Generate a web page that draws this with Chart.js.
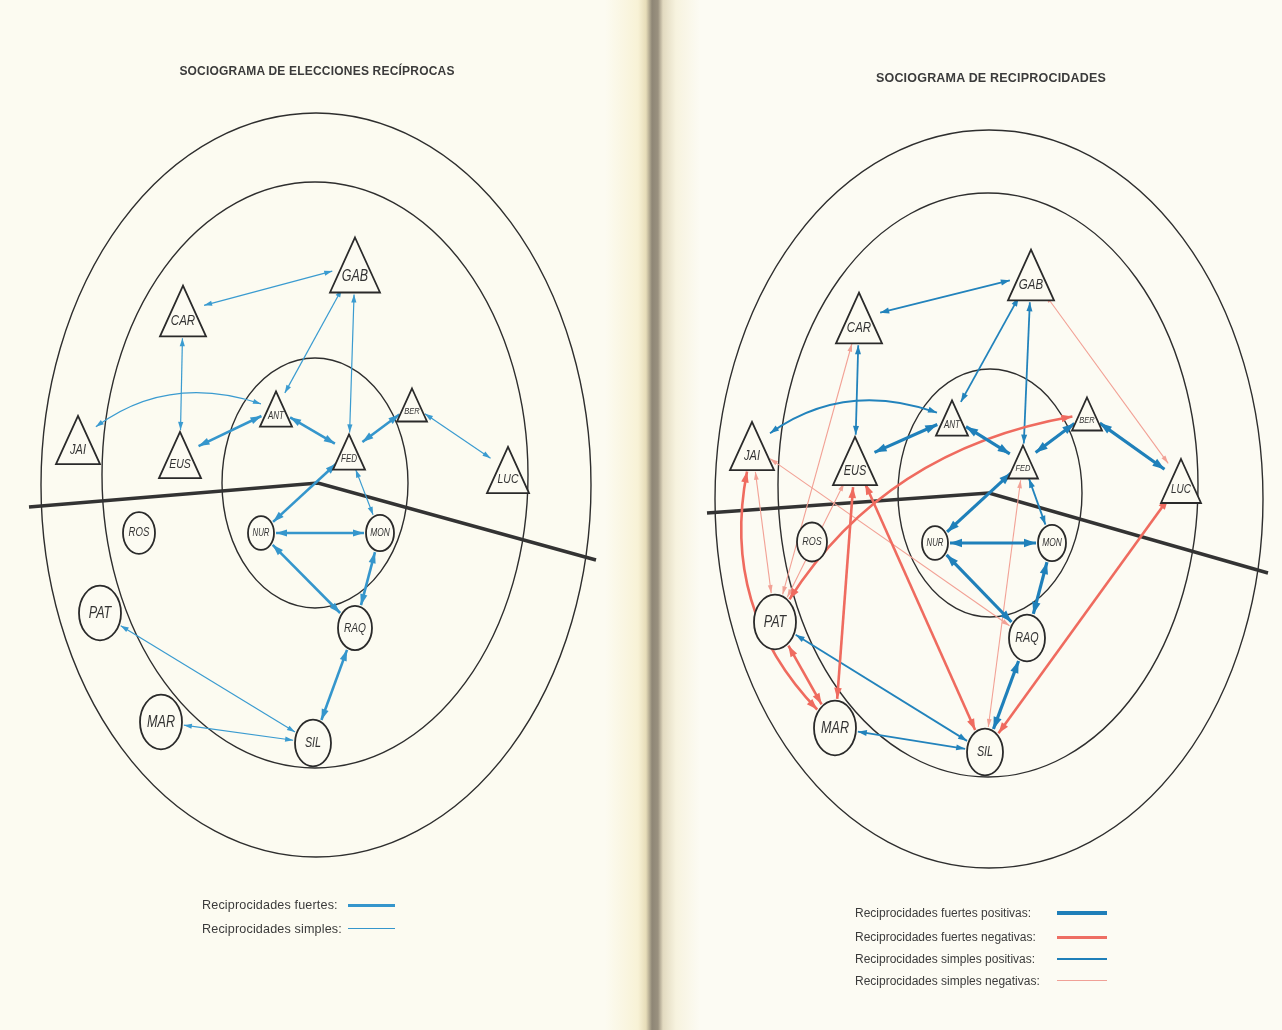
<!DOCTYPE html>
<html lang="es">
<head>
<meta charset="UTF-8">
<title>Sociogramas</title>
<script src="https://cdn.jsdelivr.net/npm/chart.js"></script>
<style>
  body {
    margin: 0; width: 1282px; height: 1030px; overflow: hidden;
    font-family: "Liberation Sans", Arial, sans-serif; color: #3b3b3b;
    background: linear-gradient(to right, #fcfbf1 0, #fcfbf1 605px, #f8f2d6 638px, #e6dcb8 646px, #8e8676 652px, #9a917f 658px, #e2dac0 663px, #f7f3df 676px, #fcfbf3 700px, #fcfbf3 100%);
  }
  #wrap { position: absolute; left: 0; top: 0; width: 1282px; height: 1030px; }
  .title { position: absolute; font-weight: bold; font-size: 12px; white-space: nowrap; transform: translate(-50%, -50%); letter-spacing: 0.2px; }
  .row { position: absolute; font-size: 12.6px; letter-spacing: 0.15px; white-space: nowrap; transform: translateY(-50%); }
  .row.r { font-size: 12px; letter-spacing: 0; }
  .sw { position: absolute; height: 0; }
</style>
</head>
<body>
<div id="wrap"><canvas id="socio"></canvas></div>

<div class="title" style="left:317px; top:71px;">SOCIOGRAMA DE ELECCIONES RECÍPROCAS</div>
<div class="title" style="left:991px; top:78px; font-size:12.5px;">SOCIOGRAMA DE RECIPROCIDADES</div>

<div class="row" style="left:202px; top:905px;">Reciprocidades fuertes:</div>
<div class="sw" style="left:348px; top:904px; width:47px; border-top:3px solid #3596cc;"></div>
<div class="row" style="left:202px; top:929px;">Reciprocidades simples:</div>
<div class="sw" style="left:348px; top:928px; width:47px; border-top:1.3px solid #3596cc;"></div>

<div class="row r" style="left:855px; top:913px;">Reciprocidades fuertes positivas:</div>
<div class="sw" style="left:1057px; top:911px; width:50px; border-top:4px solid #1f7fb9;"></div>
<div class="row r" style="left:855px; top:937px;">Reciprocidades fuertes negativas:</div>
<div class="sw" style="left:1057px; top:936px; width:50px; border-top:3px solid #ee6e63;"></div>
<div class="row r" style="left:855px; top:959px;">Reciprocidades simples positivas:</div>
<div class="sw" style="left:1057px; top:958px; width:50px; border-top:2px solid #1f7fb9;"></div>
<div class="row r" style="left:855px; top:981px;">Reciprocidades simples negativas:</div>
<div class="sw" style="left:1057px; top:980px; width:50px; border-top:1px solid #f0a096;"></div>

<script>
// alumnos: 8 chicos (triangulo) y 7 chicas (circulo)
const names = ['GAB', 'CAR', 'JAI', 'EUS', 'ANT', 'BER', 'FED', 'LUC', 'ROS', 'NUR', 'MON', 'PAT', 'RAQ', 'MAR', 'SIL'];
const sexo  = ['m', 'm', 'm', 'm', 'm', 'm', 'm', 'm', 'f', 'f', 'f', 'f', 'f', 'f', 'f'];

// posiciones en el sociograma izquierdo
const leftX = [355, 183, 78, 180, 276, 412, 349, 508, 139, 261, 380, 100, 355, 161, 313];
const leftY = [265, 311, 440, 455, 409, 405, 452, 470, 533, 533, 533, 613, 628, 722, 743];
const leftSize = [25, 23, 22, 21, 16, 15, 16, 21, 16, 13, 14, 21, 17, 21, 18];

// posiciones en el sociograma derecho
const rightX = [1031, 859, 752, 855, 952, 1087, 1023, 1181, 812, 935, 1052, 775, 1027, 835, 985];
const rightY = [275, 318, 446, 461, 418, 414, 462, 481, 542, 543, 543, 622, 638, 728, 752];
const rightSize = [23, 23, 22, 22, 16, 15, 15, 20, 15, 13, 14, 21, 18, 21, 18];

// reciprocidades
const leftStrong = [['ANT', 'EUS'], ['ANT', 'FED'], ['BER', 'FED'], ['FED', 'NUR'], ['NUR', 'MON'], ['NUR', 'RAQ'], ['MON', 'RAQ'], ['RAQ', 'SIL']];
const leftSimple = [['GAB', 'CAR'], ['CAR', 'EUS'], ['GAB', 'ANT'], ['GAB', 'FED'], ['JAI', 'ANT'], ['BER', 'LUC'], ['FED', 'MON'], ['PAT', 'SIL'], ['MAR', 'SIL']];

const rightStrongPos = [['ANT', 'EUS'], ['ANT', 'FED'], ['BER', 'FED'], ['BER', 'LUC'], ['FED', 'NUR'], ['NUR', 'MON'], ['NUR', 'RAQ'], ['MON', 'RAQ'], ['RAQ', 'SIL']];
const rightStrongNeg = [['JAI', 'MAR'], ['PAT', 'MAR'], ['EUS', 'MAR'], ['EUS', 'SIL'], ['PAT', 'BER'], ['LUC', 'SIL']];
const rightSimplePos = [['GAB', 'CAR'], ['CAR', 'EUS'], ['GAB', 'ANT'], ['GAB', 'FED'], ['JAI', 'ANT'], ['FED', 'MON'], ['PAT', 'SIL'], ['MAR', 'SIL']];
const rightSimpleNeg = [['GAB', 'LUC'], ['CAR', 'PAT'], ['JAI', 'PAT'], ['JAI', 'RAQ'], ['EUS', 'PAT'], ['FED', 'SIL']];

// lineas curvas (desplazamiento del punto de control, fraccion de la longitud)
const bends = { 'JAI-ANT': -0.26, 'JAI-MAR': 0.26, 'PAT-BER': -0.22 };

// anillos y linea divisoria de cada panel (elipses: cx, cy, rx, ry)
const panels = [
  {
    xs: leftX, ys: leftY, size: leftSize,
    rings: [[316, 485, 275, 372], [315, 475, 213, 293], [315, 483, 93, 125]],
    divide: [[29, 507], [318, 483], [596, 560]],
    edges: [
      { list: leftSimple, color: '#3a9bd0', width: 1.2, head: [8, 2.6] },
      { list: leftStrong, color: '#3596cc', width: 2.6, head: [11, 3.6] }
    ]
  },
  {
    xs: rightX, ys: rightY, size: rightSize,
    rings: [[989, 499, 274, 369], [988, 485, 210, 292], [990, 493, 92, 124]],
    divide: [[707, 513], [989, 493], [1268, 573]],
    edges: [
      { list: rightSimpleNeg, color: '#f2a195', width: 1.1, head: [8, 2.4] },
      { list: rightSimplePos, color: '#2283bc', width: 1.8, head: [9, 3] },
      { list: rightStrongNeg, color: '#ef6b5f', width: 2.6, head: [11, 3.8] },
      { list: rightStrongPos, color: '#1f80ba', width: 3.2, head: [12, 4.2] }
    ]
  }
];

const STRETCH = 1.3;   // la pagina fotografiada esta estirada en vertical

function nodeGeom(chart, p, i) {
  const x = chart.scales.x.getPixelForValue(p.xs[i]);
  const y = chart.scales.y.getPixelForValue(p.ys[i]);
  const s = p.size[i];
  if (sexo[i] === 'm') {
    const h = s * 2.2;
    return { x, y, tri: true, hw: s, h, rx: s * 0.85, ry: h / 2 };
  }
  return { x, y, tri: false, rx: s, ry: s * STRETCH };
}

function boundary(g, tx, ty, gap) {
  const dx = tx - g.x, dy = ty - g.y;
  const l = Math.hypot(dx, dy), ux = dx / l, uy = dy / l;
  const t = 1 / Math.sqrt((ux / g.rx) ** 2 + (uy / g.ry) ** 2);
  return [g.x + ux * (t + gap), g.y + uy * (t + gap)];
}

function head(ctx, tip, from, len, half) {
  const dx = tip[0] - from[0], dy = tip[1] - from[1];
  const l = Math.hypot(dx, dy), ux = dx / l, uy = dy / l;
  const bx = tip[0] - ux * len, by = tip[1] - uy * len;
  ctx.beginPath();
  ctx.moveTo(tip[0], tip[1]);
  ctx.lineTo(bx - uy * half, by + ux * half);
  ctx.lineTo(bx + uy * half, by - ux * half);
  ctx.closePath();
  ctx.fill();
}

const sociogram = {
  id: 'sociogram',
  afterDatasetsDraw(chart) {
    const ctx = chart.ctx;
    const sx = chart.scales.x, sy = chart.scales.y;
    ctx.save();
    panels.forEach(p => {
      // anillos
      ctx.strokeStyle = '#2e2e2e';
      ctx.lineWidth = 1.4;
      p.rings.forEach(r => {
        ctx.beginPath();
        ctx.ellipse(sx.getPixelForValue(r[0]), sy.getPixelForValue(r[1]), r[2], r[3], 0, 0, Math.PI * 2);
        ctx.stroke();
      });
      // linea divisoria chicos / chicas
      ctx.lineWidth = 3.4;
      ctx.strokeStyle = '#333';
      ctx.beginPath();
      p.divide.forEach((pt, k) => {
        const px = sx.getPixelForValue(pt[0]), py = sy.getPixelForValue(pt[1]);
        k ? ctx.lineTo(px, py) : ctx.moveTo(px, py);
      });
      ctx.stroke();

      // reciprocidades
      p.edges.forEach(set => {
        ctx.strokeStyle = set.color;
        ctx.fillStyle = set.color;
        ctx.lineWidth = set.width;
        set.list.forEach(([a, b]) => {
          const ga = nodeGeom(chart, p, names.indexOf(a));
          const gb = nodeGeom(chart, p, names.indexOf(b));
          const bend = bends[a + '-' + b] || 0;
          const len = Math.hypot(gb.x - ga.x, gb.y - ga.y);
          const mx = (ga.x + gb.x) / 2, my = (ga.y + gb.y) / 2;
          const nx = -(gb.y - ga.y) / len, ny = (gb.x - ga.x) / len;
          const cx = mx + nx * bend * len, cy = my + ny * bend * len;
          const pa = boundary(ga, cx, cy, 2);
          const pb = boundary(gb, cx, cy, 2);
          ctx.beginPath();
          ctx.moveTo(pa[0], pa[1]);
          if (bend) ctx.quadraticCurveTo(cx, cy, pb[0], pb[1]);
          else ctx.lineTo(pb[0], pb[1]);
          ctx.stroke();
          head(ctx, pa, [cx, cy], set.head[0], set.head[1]);
          head(ctx, pb, [cx, cy], set.head[0], set.head[1]);
        });
      });

      // alumnos
      names.forEach((name, i) => {
        const g = nodeGeom(chart, p, i);
        ctx.lineWidth = 1.8;
        ctx.strokeStyle = '#2a2a2a';
        ctx.fillStyle = '#fcfbf2';
        ctx.beginPath();
        if (g.tri) {
          ctx.moveTo(g.x, g.y - g.h / 2);
          ctx.lineTo(g.x + g.hw, g.y + g.h / 2);
          ctx.lineTo(g.x - g.hw, g.y + g.h / 2);
          ctx.closePath();
        } else {
          ctx.ellipse(g.x, g.y, g.rx, g.ry, 0, 0, Math.PI * 2);
        }
        ctx.fill();
        ctx.stroke();
        const fs = g.tri ? g.hw * 0.5 : g.rx * 0.6;
        const ly = g.tri ? g.y + g.h * 0.2 : g.y;
        ctx.save();
        ctx.translate(g.x, ly);
        ctx.scale(1, STRETCH);
        ctx.fillStyle = '#333';
        ctx.font = 'italic ' + fs.toFixed(1) + 'px "Liberation Sans", Arial, sans-serif';
        ctx.textAlign = 'center';
        ctx.textBaseline = 'middle';
        ctx.fillText(name, 0, 0);
        ctx.restore();
      });
    });
    ctx.restore();
  }
};

new Chart(document.getElementById('socio'), {
  type: 'scatter',
  data: {
    datasets: [
      { label: 'Elecciones recíprocas', data: names.map((n, i) => ({ x: leftX[i], y: leftY[i] })), pointRadius: 0 },
      { label: 'Reciprocidades', data: names.map((n, i) => ({ x: rightX[i], y: rightY[i] })), pointRadius: 0 }
    ]
  },
  options: {
    responsive: true,
    maintainAspectRatio: false,
    animation: false,
    layout: { padding: 0 },
    scales: {
      x: { type: 'linear', min: 0, max: 1282, display: false },
      y: { type: 'linear', min: 0, max: 1030, reverse: true, display: false }
    },
    plugins: { legend: { display: false }, tooltip: { enabled: false } }
  },
  plugins: [sociogram]
});
</script>
</body>
</html>
